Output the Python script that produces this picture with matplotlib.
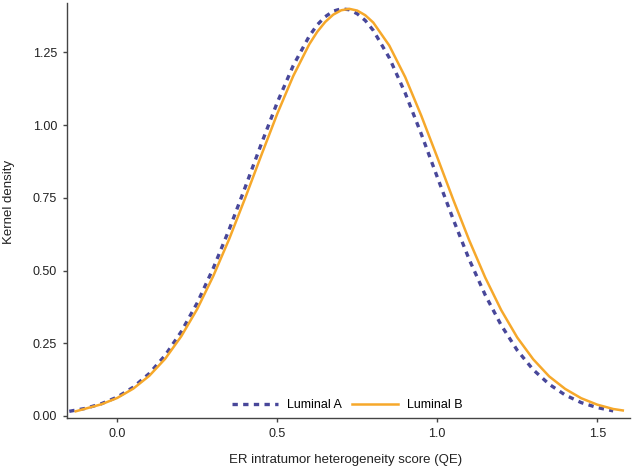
import matplotlib
matplotlib.use('Agg')
import matplotlib.pyplot as plt

plt.rcParams['font.family'] = ['Liberation Sans', 'DejaVu Sans']

# kernel density curves
x_lum_a = [-0.15, -0.10, -0.05, 0.00, 0.05, 0.10, 0.15, 0.20, 0.25, 0.30, 0.35,
           0.40, 0.45, 0.50, 0.55, 0.60, 0.625, 0.65, 0.675, 0.70, 0.725, 0.75,
           0.775, 0.80, 0.85, 0.90, 0.95, 1.00, 1.05, 1.10, 1.15, 1.20, 1.25,
           1.30, 1.35, 1.40, 1.45, 1.50, 1.55]
y_lum_a = [0.016, 0.026, 0.042, 0.065, 0.099, 0.146, 0.209, 0.290, 0.389, 0.508, 0.642,
           0.787, 0.935, 1.078, 1.205, 1.306, 1.345, 1.373, 1.392, 1.400, 1.397, 1.383,
           1.360, 1.326, 1.232, 1.110, 0.970, 0.822, 0.676, 0.538, 0.416, 0.312, 0.226,
           0.159, 0.109, 0.072, 0.046, 0.029, 0.0175]

x_lum_b = [-0.13, -0.10, -0.05, 0.00, 0.05, 0.10, 0.15, 0.20, 0.25, 0.30, 0.35,
           0.40, 0.45, 0.50, 0.55, 0.60, 0.625, 0.65, 0.675, 0.70, 0.725, 0.75,
           0.775, 0.80, 0.85, 0.90, 0.95, 1.00, 1.05, 1.10, 1.15, 1.20, 1.25,
           1.30, 1.35, 1.40, 1.45, 1.50, 1.55, 1.58]
y_lum_b = [0.016, 0.025, 0.040, 0.062, 0.094, 0.138, 0.197, 0.274, 0.368, 0.481, 0.609,
           0.750, 0.896, 1.039, 1.169, 1.278, 1.321, 1.355, 1.380, 1.395, 1.400, 1.394,
           1.378, 1.353, 1.274, 1.165, 1.033, 0.890, 0.744, 0.604, 0.476, 0.364, 0.270,
           0.195, 0.136, 0.093, 0.061, 0.039, 0.024, 0.019]

yticks = [0.00, 0.25, 0.50, 0.75, 1.00, 1.25]
xticks = [0.0, 0.5, 1.0, 1.5]

axcol = '#444444'

fig = plt.figure(figsize=(6.33, 4.70), dpi=100)
ax = fig.add_axes([0.1054, 0.110, 0.8896, 0.8836])

ax.plot(x_lum_a, y_lum_a, color='#48479a', lw=2.4, ls=(0, (1.6, 1.6)), label='Luminal A')
ax.plot(x_lum_b, y_lum_b, color='#f6a82a', lw=1.8, label='Luminal B')

ax.set_xlim(-0.158, 1.602)
ax.set_ylim(-0.008, 1.420)
ax.set_xticks(xticks)
ax.set_xticklabels(['%.1f' % t for t in xticks])
ax.set_yticks(yticks)
ax.set_yticklabels(['%.2f' % t for t in yticks])

for s in ['top', 'right']:
    ax.spines[s].set_visible(False)
for s in ['left', 'bottom']:
    ax.spines[s].set_color(axcol)
    ax.spines[s].set_linewidth(1.0)
ax.tick_params(direction='out', length=3, width=1, color=axcol, labelsize=9,
               labelcolor='#222222', pad=4)

ax.set_xlabel('ER intratumor heterogeneity score (QE)', fontsize=9.5, color='#222222')
ax.set_ylabel('Kernel density', fontsize=9.5, color='#222222')
ax.xaxis.set_label_coords(0.496, -0.086)
ax.yaxis.set_label_coords(-0.091, 0.52)

ax.legend(loc='center', bbox_to_anchor=(0.498, 0.032), ncol=2, frameon=False,
          fontsize=9, handlelength=3.7, handletextpad=0.7, columnspacing=0.8,
          borderpad=0, borderaxespad=0)

fig.savefig('out.png', dpi=100)
